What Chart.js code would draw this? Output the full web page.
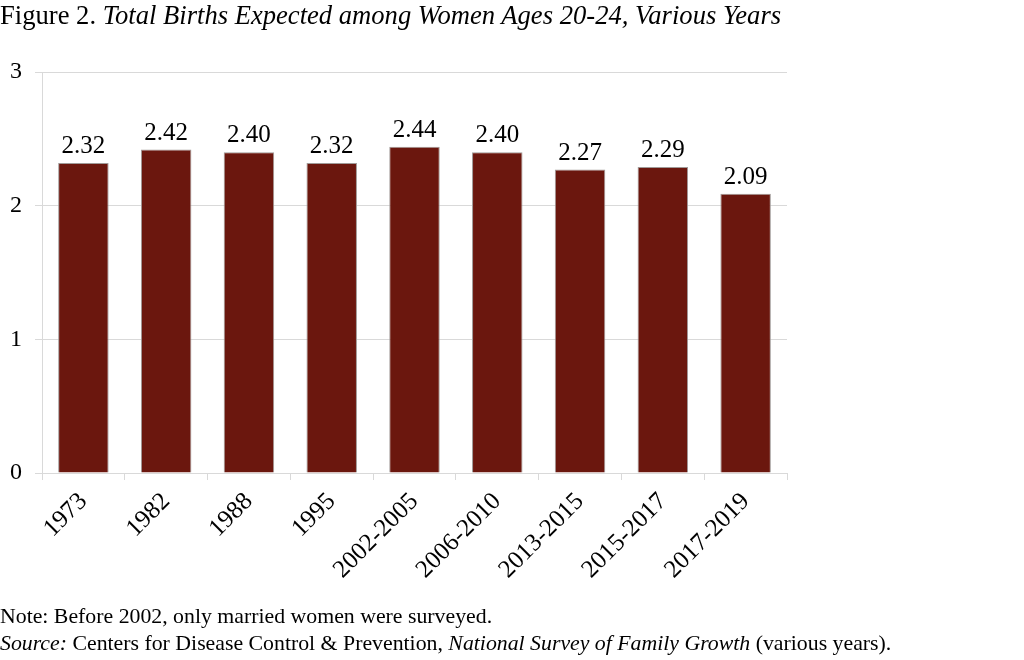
<!DOCTYPE html>
<html>
<head>
<meta charset="utf-8">
<script src="https://cdn.jsdelivr.net/npm/chart.js@4"></script>
<style>
  html, body { margin: 0; padding: 0; background: #fff; }
  #wrap { position: relative; width: 1024px; height: 660px; font-family: "Liberation Serif", "Times New Roman", serif; color: #000; }
  #title { position: absolute; left: 0; top: 0px; font-size: 26.6px; white-space: nowrap; }
  #notes { position: absolute; left: 0; top: 603px; font-size: 21.8px; line-height: 27px; white-space: nowrap; }
  canvas { position: absolute; left: 0; top: 0; }
</style>
</head>
<body>
<div id="wrap">
  <canvas id="myChart" width="1024" height="660"></canvas>
  <div id="title">Figure 2. <i>Total Births Expected among Women Ages 20-24, Various Years</i></div>
  <div id="notes">Note: Before 2002, only married women were surveyed.<br><i>Source:</i> Centers for Disease Control &amp; Prevention, <i>National Survey of Family Growth</i> (various years).</div>
</div>
<script>
const labels = ['1973', '1982', '1988', '1995', '2002-2005', '2006-2010', '2013-2015', '2015-2017', '2017-2019'];
const births = [2.32, 2.42, 2.40, 2.32, 2.44, 2.40, 2.27, 2.29, 2.09];
const yTicks = [0, 1, 2, 3];

const serif = '"Liberation Serif", "Times New Roman", serif';

// value labels above each bar
const barLabels = {
  id: 'barLabels',
  afterDatasetsDraw(chart) {
    const ctx = chart.ctx;
    const meta = chart.getDatasetMeta(0);
    ctx.save();
    ctx.font = '25px ' + serif;
    ctx.fillStyle = '#000';
    ctx.textAlign = 'center';
    ctx.textBaseline = 'bottom';
    meta.data.forEach((bar, i) => {
      ctx.fillText(births[i].toFixed(2), bar.x, bar.y - 4);
    });
    ctx.restore();
  }
};

const ctx = document.getElementById('myChart').getContext('2d');
const chart = new Chart(ctx, {
  type: 'bar',
  data: {
    labels: labels,
    datasets: [
      {
        data: births,
        backgroundColor: '#6b170e',
        borderColor: '#a09a98',
        borderWidth: 1,
        barPercentage: 0.61,
        categoryPercentage: 1
      }
    ]
  },
  options: {
    responsive: false,
    animation: false,
    layout: { padding: { top: 72, right: 237, left: 0, bottom: 0 } },
    plugins: { legend: { display: false }, tooltip: { enabled: false } },
    scales: {
      y: {
        min: 0,
        max: 3,
        afterFit(scale) { scale.width = 42; },
        afterBuildTicks(scale) { scale.ticks = yTicks.map(v => ({ value: v })); },
        grid: { color: '#d9d9d9', tickLength: 7 },
        border: { color: '#d9d9d9' },
        ticks: { font: { family: serif, size: 24 }, color: '#000', padding: 13 }
      },
      x: {
        afterFit(scale) { scale.height = 187; },
        grid: { display: true, drawOnChartArea: false, offset: true, color: '#d9d9d9', tickLength: 7 },
        border: { color: '#d9d9d9' },
        ticks: { font: { family: serif, size: 25 }, color: '#000', maxRotation: 45, minRotation: 45, padding: 7 }
      }
    }
  },
  plugins: [barLabels]
});
</script>
</body>
</html>
